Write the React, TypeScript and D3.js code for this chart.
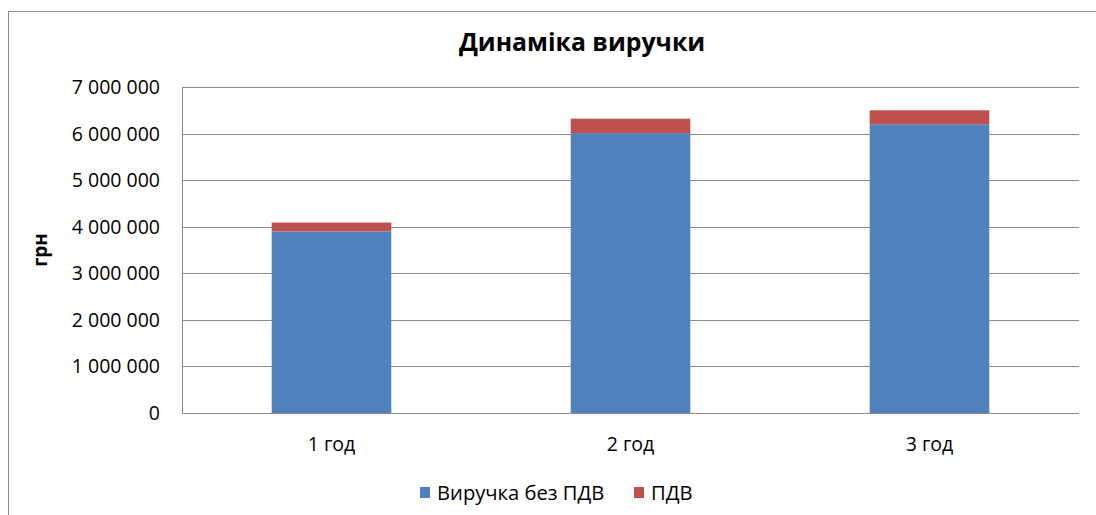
import React from "react";
import * as d3 from "d3";

const categories = ["1 год", "2 год", "3 год"];
const revenueNoVat = [3900000, 6010000, 6200000];
const vat = [190000, 310000, 300000];
const seriesNames = ["Виручка без ПДВ", "ПДВ"];
const seriesColors = ["#4F81BD", "#C0504D"];
const yTicks = [0, 1000000, 2000000, 3000000, 4000000, 5000000, 6000000, 7000000];

const W = 1096;
const H = 515;
const M = { left: 182, right: 1079, top: 87, bottom: 413 };
const FONT = "'Open Sans', sans-serif";

const fmt = (v: number) =>
  String(v).replace(/\B(?=(\d{3})+(?!\d))/g, " ");

export default function App() {
  const x = d3
    .scaleBand<string>()
    .domain(categories)
    .range([M.left, M.right])
    .paddingInner(0.6)
    .paddingOuter(0.3);
  const y = d3.scaleLinear().domain([0, 7000000]).range([M.bottom, M.top]);

  const rows = categories.map((c, i) => ({ c, a: revenueNoVat[i], b: vat[i] }));
  const stack = d3.stack<any>().keys(["a", "b"])(rows);

  return (
    <svg
      width={W}
      height={H}
      style={{ position: "absolute", left: 0, top: 0, background: "#fff" }}
      fontFamily={FONT}
    >
      <rect x={8.5} y={11.5} width={W + 10} height={H + 10} fill="#fff" stroke="#8c8c8c" strokeWidth={1} />
      <text x={582} y={42} dy="0.36em" textAnchor="middle" fontSize={24.8} fontWeight="bold" fill="#000">
        Динаміка виручки
      </text>
      {yTicks.map((t) => (
        <g key={t}>
          {t > 0 && (
            <line x1={M.left} x2={M.right} y1={Math.round(y(t)) + 0.5} y2={Math.round(y(t)) + 0.5} stroke="#8a8a8a" strokeWidth={1} />
          )}
          <text x={160} y={y(t)} dy="0.36em" textAnchor="end" fontSize={19.5} fill="#000">
            {fmt(t)}
          </text>
        </g>
      ))}
      {stack.map((s, si) =>
        s.map((d: any, i: number) => (
          <rect
            key={si + "-" + i}
            x={x(categories[i])}
            width={x.bandwidth()}
            y={y(d[1])}
            height={y(d[0]) - y(d[1])}
            fill={seriesColors[si]}
          />
        ))
      )}
      <line x1={M.left + 0.5} x2={M.left + 0.5} y1={M.top} y2={M.bottom} stroke="#8a8a8a" />
      <line x1={M.left} x2={M.right} y1={M.bottom + 0.5} y2={M.bottom + 0.5} stroke="#8a8a8a" />
      {categories.map((c) => (
        <text key={c} x={x(c)! + x.bandwidth() / 2} y={444} dy="0.36em" textAnchor="middle" fontSize={19.5} fill="#000">
          {c}
        </text>
      ))}
      <text transform={`translate(40,250) rotate(-90)`} textAnchor="middle" dy="0.36em" fontSize={19} fontWeight="bold" fill="#000">
        грн
      </text>
      <g>
        <rect x={420} y={487} width={10} height={11} fill={seriesColors[0]} />
        <text x={437} y={493} dy="0.36em" fontSize={20.2} fill="#000">{seriesNames[0]}</text>
        <rect x={634} y={487} width={10} height={11} fill={seriesColors[1]} />
        <text x={651} y={493} dy="0.36em" fontSize={20.2} fill="#000">{seriesNames[1]}</text>
      </g>
    </svg>
  );
}
